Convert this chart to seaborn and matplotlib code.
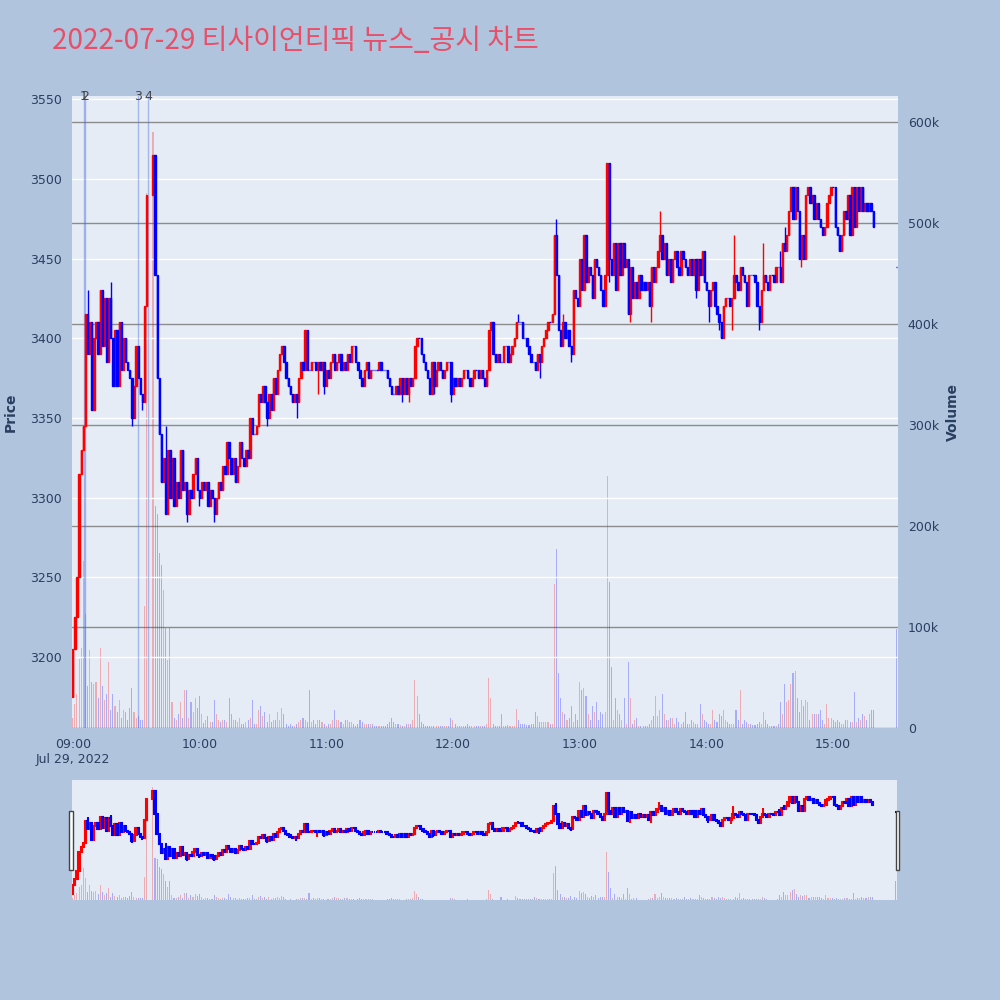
import numpy as np
import pandas as pd
import seaborn as sns
import matplotlib
matplotlib.use('Agg')
import matplotlib.pyplot as plt
from matplotlib.patches import Rectangle

title = '2022-07-29 티사이언티픽 뉴스_공시 차트'

# minutes after 09:00 (no trades 09:36-09:37, VI halt)
minutes = list(range(0, 36)) + list(range(38, 380))
first_open = 3175
closes = [
    3205, 3225, 3250, 3315, 3330, 3345, 3415, 3390, 3410, 3355,   # 09:00
    3400, 3410, 3390, 3430, 3395, 3425, 3385, 3425, 3400, 3370,
    3405, 3370, 3410, 3380, 3400, 3385, 3380, 3375, 3350, 3370,
    3395, 3375, 3365, 3360, 3420, 3490,
    3515, 3440,                                                   # 09:38
    3375, 3340, 3310, 3325, 3290, 3330, 3300, 3325, 3295, 3310,   # 09:40
    3300, 3330, 3305, 3310, 3290, 3305, 3300, 3315, 3325, 3305,
    3300, 3310, 3305, 3310, 3295, 3305, 3300, 3290, 3300, 3310,   # 10:00
    3305, 3320, 3315, 3335, 3325, 3315, 3325, 3310, 3320, 3335,
    3325, 3320, 3330, 3325, 3350, 3340, 3340, 3345, 3365, 3360,
    3370, 3360, 3350, 3365, 3355, 3375, 3365, 3380, 3390, 3395,
    3385, 3375, 3370, 3365, 3360, 3365, 3360, 3375, 3385, 3380,
    3405, 3380, 3380, 3385, 3385, 3380, 3385, 3380, 3385, 3370,
    3380, 3375, 3385, 3390, 3380, 3385, 3390, 3380, 3385, 3380,   # 11:00
    3390, 3385, 3395, 3395, 3385, 3380, 3375, 3370, 3380, 3385,
    3375, 3380, 3380, 3380, 3380, 3385, 3380, 3380, 3380, 3375,
    3370, 3365, 3365, 3370, 3365, 3375, 3365, 3375, 3365, 3375,
    3370, 3375, 3395, 3400, 3400, 3390, 3385, 3380, 3375, 3365,
    3385, 3370, 3380, 3385, 3380, 3375, 3380, 3385, 3385, 3365,
    3375, 3370, 3375, 3370, 3375, 3380, 3380, 3375, 3370, 3375,   # 12:00
    3380, 3380, 3375, 3380, 3375, 3370, 3380, 3405, 3410, 3390,
    3385, 3390, 3385, 3385, 3395, 3395, 3385, 3390, 3395, 3400,
    3410, 3410, 3410, 3400, 3400, 3395, 3390, 3385, 3385, 3380,
    3390, 3385, 3395, 3400, 3405, 3410, 3410, 3415, 3465, 3440,
    3405, 3395, 3410, 3400, 3405, 3395, 3390, 3430, 3425, 3420,
    3450, 3430, 3465, 3435, 3445, 3440, 3425, 3450, 3445, 3440,   # 13:00
    3430, 3420, 3440, 3510, 3450, 3440, 3460, 3430, 3460, 3440,
    3460, 3445, 3450, 3415, 3445, 3425, 3435, 3425, 3440, 3430,
    3435, 3430, 3435, 3420, 3445, 3435, 3445, 3455, 3465, 3450,
    3460, 3440, 3450, 3435, 3450, 3455, 3445, 3440, 3455, 3450,
    3445, 3440, 3450, 3440, 3450, 3430, 3450, 3440, 3455, 3435,
    3430, 3420, 3430, 3435, 3420, 3415, 3410, 3400, 3420, 3425,   # 14:00
    3425, 3420, 3425, 3440, 3435, 3430, 3445, 3440, 3435, 3420,
    3440, 3440, 3440, 3435, 3420, 3410, 3430, 3440, 3435, 3430,
    3440, 3440, 3435, 3445, 3445, 3435, 3460, 3455, 3465, 3480,
    3495, 3475, 3495, 3480, 3450, 3465, 3450, 3490, 3495, 3485,
    3490, 3475, 3485, 3475, 3470, 3465, 3470, 3485, 3490, 3495,
    3495, 3470, 3465, 3455, 3465, 3480, 3475, 3490, 3465, 3495,   # 15:00
    3470, 3495, 3480, 3495, 3480, 3485, 3480, 3485, 3480, 3470,
]
volumes_k = [
    10, 24, 34, 68, 79, 165, 113, 42, 77, 46,
    44, 46, 30, 79, 42, 28, 34, 65, 18, 34,
    22, 16, 28, 10, 18, 16, 8, 20, 40, 16,
    10, 12, 8, 8, 121, 530,
    590, 220,
    212, 173, 161, 137, 99, 67, 99, 26, 10, 8,
    14, 26, 10, 38, 38, 10, 26, 16, 30, 20,
    32, 14, 5, 8, 12, 6, 6, 28, 14, 8,
    6, 8, 8, 6, 30, 14, 8, 8, 6, 10,
    4, 4, 6, 8, 10, 28, 4, 4, 18, 22,
    12, 16, 6, 14, 6, 8, 8, 16, 8, 20,
    14, 4, 2, 4, 2, 2, 4, 6, 8, 10,
    8, 6, 38, 6, 8, 4, 8, 8, 6, 4,
    2, 4, 4, 8, 18, 8, 8, 6, 4, 8,
    8, 6, 6, 4, 2, 4, 8, 6, 4, 4,
    4, 4, 4, 2, 2, 2, 2, 2, 2, 4,
    6, 10, 6, 4, 4, 3, 2, 2, 4, 4,
    4, 8, 48, 32, 14, 6, 4, 2, 2, 2,
    2, 2, 2, 2, 2, 2, 2, 2, 2, 10,
    8, 4, 2, 2, 2, 2, 2, 4, 2, 2,
    2, 2, 2, 2, 2, 2, 4, 50, 30, 4,
    2, 2, 2, 14, 2, 2, 3, 2, 2, 2,
    19, 8, 4, 4, 4, 3, 3, 4, 4, 16,
    12, 6, 6, 6, 6, 6, 4, 4, 143, 177,
    54, 30, 16, 14, 8, 10, 22, 6, 14, 8,
    46, 38, 40, 32, 14, 8, 22, 16, 26, 8,
    16, 14, 16, 250, 145, 60, 8, 30, 18, 14,
    8, 30, 4, 65, 30, 4, 8, 10, 2, 2,
    2, 2, 2, 4, 8, 12, 32, 12, 18, 34,
    14, 8, 8, 10, 10, 4, 10, 6, 4, 6,
    16, 4, 4, 8, 6, 4, 4, 24, 14, 8,
    6, 4, 4, 18, 8, 6, 14, 12, 18, 8,
    6, 4, 4, 4, 18, 8, 38, 4, 8, 6,
    4, 4, 3, 3, 4, 6, 4, 16, 8, 4,
    2, 2, 2, 2, 4, 26, 14, 44, 26, 28,
    44, 54, 56, 30, 16, 28, 22, 28, 26, 8,
    14, 14, 14, 14, 18, 8, 4, 24, 10, 10,
    8, 6, 8, 6, 4, 4, 8, 8, 6, 6,
    36, 6, 10, 8, 14, 12, 8, 14, 18, 18,
]
wick_high = {7: 3430, 18: 3435, 44: 3345, 211: 3415, 229: 3475, 232: 3415,
             278: 3480, 313: 3465, 327: 3460, 335: 3455, 337: 3470}
wick_low = {28: 3345, 33: 3355, 54: 3285, 60: 3295, 67: 3285, 92: 3345,
            106: 3350, 116: 3365, 119: 3365, 156: 3360, 159: 3360, 171: 3365,
            179: 3360, 221: 3375, 236: 3385, 254: 3435, 264: 3410, 274: 3410,
            295: 3425, 301: 3410, 306: 3405, 312: 3405, 325: 3405, 345: 3445}

# closing auction 15:30
auction_minute = 390
auction_price = 3445
auction_volume_k = 98

news_minutes = [5.3, 5.7, 30.8, 35.8]
news_labels = ['1', '2', '3', '4']

hour_ticks = [0, 60, 120, 180, 240, 300, 360]
hour_labels = ['09:00\nJul 29, 2022', '10:00', '11:00', '12:00', '13:00', '14:00', '15:00']
price_ticks = [3200, 3250, 3300, 3350, 3400, 3450, 3500, 3550]
volume_ticks = [0, 100000, 200000, 300000, 400000, 500000, 600000]
volume_labels = ['0', '100k', '200k', '300k', '400k', '500k', '600k']

df = pd.DataFrame({'minute': minutes,
                   'open': [first_open] + closes[:-1],
                   'close': closes,
                   'volume': [v * 1000 for v in volumes_k]})
df.loc[len(df)] = [auction_minute, auction_price, auction_price, auction_volume_k * 1000]
df['high'] = df[['open', 'close']].max(axis=1)
df['low'] = df[['open', 'close']].min(axis=1)
for m, v in wick_high.items():
    df.loc[df.minute == m, 'high'] = v
for m, v in wick_low.items():
    df.loc[df.minute == m, 'low'] = v
df['direction'] = np.where(df.close > df.open, 'up', 'down')

sns.set_theme(style='white')
plt.rcParams['font.family'] = ['DejaVu Sans', 'Noto Sans CJK KR']

BG = '#B0C4DE'
PLOT_BG = '#E5ECF6'
TXT = '#2a3f5f'
XLIM = (-0.35, 390.7)
PLIM = (3155.5, 3552)
VLIM = (0, 626000)


def draw_candles(axis, width, lw):
    for d, color in [('up', '#FF0000'), ('down', '#0000FF')]:
        part = df[df.direction == d]
        axis.vlines(part.minute, part.low, part.high, color=color, lw=lw, zorder=3)
        axis.bar(part.minute, (part.close - part.open).abs(), bottom=part[['open', 'close']].min(axis=1),
                 width=width, color=color, edgecolor=color, linewidth=lw, zorder=3)


def draw_volume(axis):
    sns.histplot(data=df, x='minute', weights='volume', hue='direction', hue_order=['up', 'down'],
                 palette={'up': '#FF0000', 'down': '#0000FF'}, discrete=True, shrink=0.5,
                 alpha=0.27, linewidth=0, legend=False, ax=axis)


fig = plt.figure(figsize=(10, 10), dpi=100, facecolor=BG)

# main chart
ax = fig.add_axes([0.072, 0.272, 0.826, 0.632])
ax_vol = ax.twinx()
ax.set_zorder(ax_vol.get_zorder() + 1)
ax.patch.set_visible(False)
ax_vol.patch.set_visible(True)
ax_vol.set_facecolor(PLOT_BG)

draw_volume(ax_vol)
draw_candles(ax, 0.65, 1.0)

for m, lab in zip(news_minutes, news_labels):
    ax.axvline(m, color='royalblue', alpha=0.4, lw=1, zorder=2)
    ax.text(m, 1.0, lab, transform=ax.get_xaxis_transform(), ha='center', va='center',
            fontsize=9, color='#444444')

ax.set_xlim(*XLIM)
ax.set_ylim(*PLIM)
ax_vol.set_ylim(*VLIM)
ax.set_yticks(price_ticks)
ax.set_xticks(hour_ticks)
ax.set_xticklabels(hour_labels, linespacing=1.25)
ax_vol.set_yticks(volume_ticks)
ax_vol.set_yticklabels(volume_labels)
ax.grid(axis='y', color='white', lw=1)
ax.grid(axis='x', visible=False)
ax_vol.grid(axis='y', color='#8c8c8c', lw=1)
ax_vol.grid(axis='x', visible=False)
for a in (ax, ax_vol):
    for s in a.spines.values():
        s.set_visible(False)
    a.tick_params(length=0, pad=7, labelsize=9, labelcolor=TXT)
ax_vol.set_xlabel('')
ax.set_ylabel('Price', fontsize=10, fontweight='bold', color=TXT)
ax_vol.set_ylabel('Volume', fontsize=10, fontweight='bold', color=TXT)
ax.yaxis.set_label_coords(-0.066, 0.5)
ax_vol.yaxis.set_label_coords(1.058, 0.5)

# range slider
sl = fig.add_axes([0.072, 0.100, 0.825, 0.120])
sl_vol = sl.twinx()
sl.set_zorder(sl_vol.get_zorder() + 1)
sl.patch.set_visible(False)
sl_vol.patch.set_visible(True)
sl_vol.set_facecolor(PLOT_BG)
draw_volume(sl_vol)
draw_candles(sl, 0.6, 1.5)
sl.set_xlim(*XLIM)
sl.set_ylim(*PLIM)
sl_vol.set_ylim(*VLIM)
for a in (sl, sl_vol):
    a.set_xticks([])
    a.set_yticks([])
    a.set_xlabel('')
    a.set_ylabel('')
    a.grid(False)
    for s in a.spines.values():
        s.set_visible(False)
for x0 in (0.0693, 0.8957):
    fig.add_artist(Rectangle((x0, 0.130), 0.0037, 0.059, transform=fig.transFigure,
                             facecolor='white', edgecolor='#444444', lw=1))

fig.text(0.052, 0.959, title, fontsize=20.2, color='#E8506A', va='center',
         family=['Noto Sans CJK KR', 'DejaVu Sans'])

fig.savefig('out.png', dpi=100, facecolor=BG)
